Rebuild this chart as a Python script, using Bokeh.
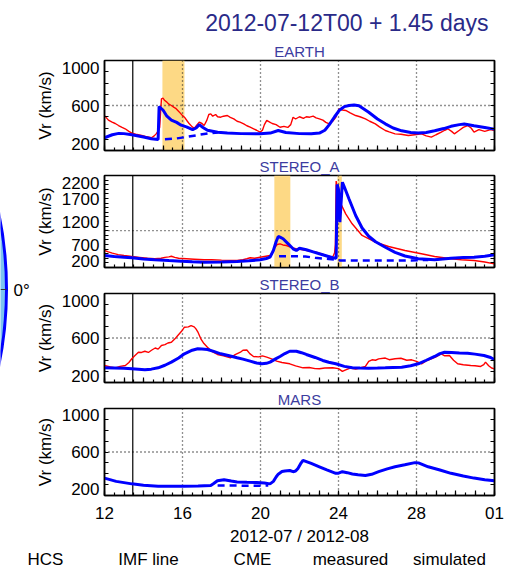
from bokeh.plotting import figure
from bokeh.models import (Range1d, LinearAxis, FixedTicker, Span, BoxAnnotation, Title,
                          CustomJSTickFormatter)
from bokeh.layouts import row, column
from bokeh.embed import file_html
from bokeh.resources import INLINE
from bokeh.core.properties import value

FONT = "Liberation Sans"

# ---------------- data ----------------
main_title = "2012-07-12T00 + 1.45 days"
panel_names = ["EARTH", "STEREO_A", "STEREO_B", "MARS"]
x_tick_labels = {"12": "12", "16": "16", "20": "20", "24": "24", "28": "28", "32": "01"}
x_axis_label = "2012-07 / 2012-08"
y_axis_label = "Vr (km/s)"
legend_labels = ["HCS", "IMF line", "CME", "measured", "simulated"]
current_time = 13.45
grid_days = [16, 20, 24, 28]

earth_meas_day = [12.0, 12.2, 12.39, 12.55, 12.72, 12.9, 13.06, 13.25, 13.4, 13.6, 13.91, 14.1, 14.41, 14.55,
                  14.66, 14.78, 14.83, 14.92, 15.0, 15.09, 15.2, 15.3, 15.43, 15.55, 15.65, 15.76, 15.9, 16.0,
                  16.1, 16.25, 16.35, 16.5, 16.61, 16.75, 16.86, 17.0, 17.11, 17.25, 17.35, 17.45, 17.55, 17.7,
                  17.8, 17.96, 18.1, 18.3, 18.45, 18.63, 18.8, 18.95, 19.14, 19.3, 19.47, 19.65, 19.8, 19.98,
                  20.1, 20.2, 20.32, 20.45, 20.6, 20.8, 21.0, 21.2, 21.4, 21.55, 21.67, 21.8, 22.0, 22.2, 22.35,
                  22.52, 22.7, 22.85, 23.02, 23.2, 23.35, 23.53, 23.7, 23.86, 24.03, 24.2, 24.37, 24.6, 24.88,
                  25.1, 25.38, 25.6, 25.89, 26.1, 26.4, 26.6, 26.9, 27.2, 27.58, 27.9, 28.26, 28.5, 28.76, 29.0,
                  29.27, 29.45, 29.6, 29.8, 29.94, 30.2, 30.4, 30.62, 30.8, 30.95, 31.2, 31.5, 31.8, 32.0]
earth_meas_v = [510, 470, 452, 440, 422, 405, 393, 370, 354, 345, 333, 325, 313, 330,
                350, 380, 407, 659, 665, 644, 630, 612, 600, 585, 575, 556, 530, 510,
                496, 460, 437, 410, 398, 430, 452, 440, 422, 470, 520, 526, 505, 520,
                500, 496, 505, 511, 495, 481, 460, 452, 437, 420, 407, 393, 380, 363,
                380, 430, 467, 455, 440, 430, 407, 415, 405, 430, 496, 480, 500, 485, 500,
                496, 505, 490, 481, 470, 450, 437, 460, 496, 570, 560, 556, 535, 511,
                500, 481, 460, 437, 410, 378, 365, 348, 345, 333, 340, 348, 330, 319, 340,
                363, 380, 393, 370, 348, 380, 405, 422, 400, 363, 385, 370, 385, 378]
earth_sim_day = [12.0, 12.4, 12.73, 13.0, 13.4, 14.0, 14.4, 14.75, 14.8, 15.0, 15.2, 15.43, 15.7, 15.93,
                 16.2, 16.52, 16.7, 16.86, 17.05, 17.28, 17.8, 18.3, 19.0, 19.98, 20.5, 20.91, 21.3, 22.0,
                 22.6, 23.02, 23.3, 23.53, 23.8, 24.03, 24.3, 24.54, 24.8, 25.05, 25.55, 26.0, 26.4, 26.8,
                 27.24, 27.7, 28.09, 28.5, 28.93, 29.4, 29.77, 30.2, 30.45, 30.95, 31.5, 32.0]
earth_sim_v = [313, 340, 352, 350, 340, 320, 305, 298, 591, 560, 505, 470, 450, 425,
               410, 385, 400, 430, 405, 380, 362, 355, 350, 348, 355, 378, 360, 350,
               348, 355, 380, 430, 500, 555, 590, 600, 605, 598, 540, 480, 437, 400,
               375, 360, 355, 360, 375, 395, 415, 430, 435, 420, 405, 390]
earth_amb_day = [15.1, 15.6, 16.2, 16.8, 17.3, 17.8]
earth_amb_v = [300, 305, 320, 338, 352, 360]
earth_cme = [(14.97, 16.1)]

sta_meas_day = [12.0, 12.2, 12.4, 12.7, 13.0, 13.4, 13.8, 14.2, 14.58, 14.9, 15.1, 15.3, 15.43, 15.6, 15.8,
                16.2, 16.6, 17.11, 17.5, 18.0, 18.4, 18.8, 19.1, 19.3, 19.47, 19.7, 19.98, 20.2, 20.49,
                20.6, 20.74, 20.85, 21.0, 21.15, 21.33, 21.5, 21.67, 21.9, 22.18, 22.5, 22.86, 23.1, 23.36,
                23.55, 23.7, 23.8, 23.84, 23.88, 23.95, 24.05, 24.12, 24.37, 24.7, 25.21, 25.89, 26.57,
                27.41, 28.25, 28.93, 29.77, 30.3, 30.95, 31.5, 32.0]
sta_meas_v = [570, 540, 511, 480, 460, 439, 420, 400, 389, 400, 420, 430, 445, 420, 400,
              390, 380, 367, 370, 360, 355, 352, 370, 390, 411, 400, 424, 440, 461,
              520, 641, 700, 715, 690, 678, 650, 628, 600, 585, 560, 533, 500, 461,
              440, 424, 520, 700, 2080, 1900, 1700, 1584, 1367, 1150, 896, 750, 657,
              570, 498, 439, 389, 370, 352, 320, 280]
sta_sim_day = [12.0, 12.5, 13.0, 13.4, 14.0, 14.58, 15.3, 15.93, 16.5, 17.11, 18.0, 18.8, 19.4, 19.98,
               20.3, 20.49, 20.66, 20.8, 20.91, 21.0, 21.16, 21.42, 21.67, 21.84, 22.0, 22.35, 22.7,
               23.02, 23.4, 23.7, 23.88, 23.93, 24.0, 24.07, 24.2, 24.3, 24.54, 24.88, 25.21, 25.55,
               25.9, 26.4, 26.9, 27.41, 28.09, 28.93, 29.77, 30.4, 30.95, 31.5, 32.0]
sta_sim_v = [461, 440, 425, 411, 385, 367, 350, 337, 325, 315, 320, 330, 345, 367,
             395, 424, 570, 760, 874, 860, 824, 715, 606, 570, 620, 585, 540,
             498, 450, 411, 400, 2004, 1900, 1185, 2054, 1950, 1690, 1330, 1060, 880,
             760, 640, 530, 450, 389, 367, 402, 415, 424, 445, 476]
sta_amb_day = [20.95, 21.5, 22.3, 22.8, 23.5, 23.9, 24.1, 25.0, 26.0, 27.0, 28.0, 28.6]
sta_amb_v = [446, 446, 440, 410, 385, 370, 352, 350, 350, 350, 355, 365]
sta_cme = [(20.71, 21.53), (23.95, 24.17)]

stb_meas_day = [12.0, 12.3, 12.56, 12.8, 13.07, 13.25, 13.4, 13.55, 13.74, 13.9, 14.07, 14.25, 14.41, 14.6,
                14.75, 14.92, 15.1, 15.25, 15.43, 15.6, 15.76, 15.95, 16.1, 16.3, 16.44, 16.6, 16.69, 16.8,
                16.94, 17.1, 17.28, 17.5, 17.79, 18.1, 18.46, 18.7, 18.97, 19.1, 19.3, 19.45, 19.64, 19.9,
                20.1, 20.32, 20.6, 20.83, 21.1, 21.5, 21.8, 22.18, 22.5, 22.8, 23.02, 23.3, 23.7, 24.0,
                24.2, 24.37, 24.6, 24.88, 25.1, 25.38, 25.55, 25.72, 25.9, 26.06, 26.4, 26.6, 26.9, 27.2,
                27.5, 27.75, 28.0, 28.26, 28.5, 28.76, 29.0, 29.27, 29.45, 29.69, 29.9, 30.11, 30.4, 30.78,
                31.0, 31.29, 31.45, 31.54, 31.7, 31.85, 32.0]
stb_meas_v = [353, 340, 332, 345, 353, 380, 413, 440, 472, 470, 481, 470, 490, 510,
              500, 533, 540, 555, 562, 590, 622, 660, 697, 700, 712, 700, 682, 650,
              593, 550, 517, 480, 452, 440, 422, 450, 472, 490, 492, 460, 434, 430,
              440, 428, 410, 392, 380, 368, 350, 332, 335, 325, 323, 330, 332, 325,
              300, 314, 330, 320, 330, 345, 390, 404, 400, 412, 420, 405, 413, 418,
              400, 404, 390, 368, 395, 413, 430, 458, 440, 443, 400, 368, 360, 353,
              350, 344, 360, 383, 350, 330, 323]
stb_sim_day = [12.0, 12.5, 13.0, 13.4, 14.07, 14.4, 14.75, 15.1, 15.43, 15.8, 16.1, 16.5, 16.78, 17.0,
               17.28, 17.6, 17.96, 18.4, 18.8, 19.1, 19.47, 19.8, 20.07, 20.3, 20.49, 20.75, 21.0, 21.25,
               21.5, 21.84, 22.1, 22.35, 22.8, 23.19, 23.5, 23.86, 24.3, 24.71, 25.1, 25.55, 26.0, 26.4,
               26.8, 27.24, 27.7, 28.09, 28.5, 28.93, 29.2, 29.44, 29.8, 30.2, 30.62, 31.0, 31.46, 31.8, 32.0]
stb_sim_v = [332, 330, 328, 323, 314, 320, 332, 355, 383, 420, 458, 490, 503, 502,
             497, 480, 458, 440, 422, 410, 392, 375, 368, 372, 383, 410, 434, 460,
             481, 481, 468, 452, 425, 398, 382, 368, 345, 332, 330, 329, 330, 332,
             335, 338, 350, 368, 400, 434, 460, 472, 470, 466, 463, 455, 443, 425, 404]

mars_sim_day = [12.0, 12.6, 13.4, 14.0, 14.75, 15.5, 16.1, 16.8, 17.45, 17.6, 17.79, 18.13, 18.5, 18.8,
                19.3, 19.81, 20.2, 20.49, 20.66, 20.8, 20.91, 21.1, 21.25, 21.5, 21.67, 21.8, 21.92, 22.05,
                22.18, 22.6, 23.02, 23.4, 23.86, 24.0, 24.2, 24.45, 24.71, 25.0, 25.38, 25.7, 26.06, 26.5,
                26.9, 27.4, 27.92, 28.1, 28.6, 29.2, 29.77, 30.4, 30.95, 31.5, 32.0]
mars_sim_v = [360, 330, 307, 295, 286, 285, 286, 288, 292, 310, 336, 345, 333, 324,
              322, 320, 315, 307, 330, 370, 396, 420, 425, 430, 419, 425, 449, 490,
              523, 495, 464, 435, 404, 405, 419, 410, 398, 390, 384, 395, 419, 445,
              464, 482, 502, 500, 464, 435, 404, 380, 360, 345, 336]
mars_amb_day = [17.8, 18.5, 19.2, 19.9, 20.4]
mars_amb_v = [292, 292, 290, 290, 292]

y_range_low = [200, 200, 200, 200]
y_range_high = [1000, 2200, 1000, 1000]
y_major_ticks = [[200, 600, 1000], [200, 700, 1200, 1700, 2200], [200, 600, 1000], [200, 600, 1000]]
y_tick_labels = [["200", "600", "1000"], ["200", "700", "1200", "1700", "2200"],
                 ["200", "600", "1000"], ["200", "600", "1000"]]
y_ref_level = [600, 1000, 600, 600]

# ---------------- styles / layout ----------------
RED = "#FF0000"
BLUE = "#0000FF"
BAND = "#FDD985"
TITLE_COLOR = "#2A2A88"
PANEL_TITLE_COLOR = "#3C3CA0"
FRAME_H = [90, 92, 89, 90]      # frame heights in px
END_LABEL_INSET = 7             # px the end labels sit inside the frame (IDL style)

x_major = list(range(12, 33))
x_minor = [12 + 0.5 * i for i in range(41)]

empty_fmt = CustomJSTickFormatter(code="return '';")


def style_axis(ax, ticker, fmt, label_size, major_in=5, minor_in=3):
    ax.ticker = ticker
    ax.formatter = fmt
    ax.major_tick_in = major_in
    ax.major_tick_out = 0
    ax.minor_tick_in = minor_in
    ax.minor_tick_out = 0
    ax.axis_line_color = "black"
    ax.axis_line_width = 1.5
    ax.major_tick_line_color = "black"
    ax.major_tick_line_width = 1.2
    ax.minor_tick_line_color = "black"
    ax.minor_tick_line_width = 1.2
    ax.major_label_text_font = FONT
    ax.major_label_text_font_size = label_size
    ax.major_label_text_color = "black"
    ax.axis_label_text_font = FONT
    ax.axis_label_text_font_size = "17px"
    ax.axis_label_text_font_style = "normal"
    ax.axis_label_text_color = "black"


def make_panel(i, height, b_top, b_bottom, meas, sim, amb, bands, last=False):
    lo, hi = y_range_low[i], y_range_high[i]
    p = figure(width=480, height=height, title=None,
               x_range=Range1d(12, 32), y_range=Range1d(lo, hi),
               output_backend="svg", toolbar_location=None,
               min_border_left=67, min_border_right=18,
               min_border_top=b_top, min_border_bottom=b_bottom)
    p.grid.visible = False
    p.outline_line_color = "black"
    p.outline_line_width = 1.5

    ymin = list(range(lo, hi + 1, 100))
    # label anchors: end labels pulled slightly inside the frame; tick marks come from minor ticks
    inset = END_LABEL_INSET * (hi - lo) / FRAME_H[i]
    pos = list(y_major_ticks[i])
    pos[0] = pos[0] + inset
    pos[-1] = pos[-1] - inset
    yt = FixedTicker(ticks=pos, minor_ticks=ymin)
    yfmt = CustomJSTickFormatter(args=dict(pos=pos, txt=y_tick_labels[i]), code="""
        for (let k = 0; k < pos.length; k++) {
            if (Math.abs(pos[k] - tick) < 1e-6) return txt[k];
        }
        return '';
    """)
    ya = p.yaxis[0]
    style_axis(ya, yt, yfmt, "17px", major_in=0, minor_in=4)
    ya.axis_label = y_axis_label
    ya.major_label_standoff = 5
    ya.axis_label_standoff = 4

    xa = p.xaxis[0]
    xt = FixedTicker(ticks=x_major, minor_ticks=x_minor)
    if last:
        fmt = CustomJSTickFormatter(args=dict(labels=x_tick_labels),
                                    code="const k = String(Math.round(tick)); return (k in labels) ? labels[k] : '';")
        style_axis(xa, xt, fmt, "17px")
        xa.axis_label = x_axis_label
        xa.major_label_standoff = 11
        xa.axis_label_standoff = 5
    else:
        style_axis(xa, xt, empty_fmt, "0px")
        xa.major_label_standoff = 0

    ra = LinearAxis()
    style_axis(ra, FixedTicker(ticks=[], minor_ticks=ymin), empty_fmt, "0px", major_in=0, minor_in=4)
    ra.major_label_standoff = 0
    p.add_layout(ra, "right")

    # CME intervals
    for a, b in bands:
        p.add_layout(BoxAnnotation(left=a, right=b, fill_color=BAND, fill_alpha=1.0,
                                   line_color=None, level="underlay"))
    for d in grid_days:
        p.add_layout(Span(location=d, dimension="height", line_color="#222222",
                          line_width=1.3, line_dash="1 3", level="underlay"))
    p.add_layout(Span(location=y_ref_level[i], dimension="width", line_color="#222222",
                      line_width=1.3, line_dash="1 3", level="underlay"))
    p.add_layout(Span(location=current_time, dimension="height", line_color="black",
                      line_width=1.2, level="underlay"))

    if meas is not None:
        p.line(meas[0], meas[1], line_color=RED, line_width=1.4)
    if amb is not None:
        p.line(amb[0], amb[1], line_color=BLUE, line_width=2.5, line_dash="7 5")
    p.line(sim[0], sim[1], line_color=BLUE, line_width=3)

    p.add_layout(Title(text=panel_names[i], align="center", text_font=FONT, text_font_size="15px",
                       text_font_style="normal", text_color=PANEL_TITLE_COLOR, standoff=2), "above")
    return p


f1 = make_panel(0, 152, 60, 2, (earth_meas_day, earth_meas_v), (earth_sim_day, earth_sim_v),
                (earth_amb_day, earth_amb_v), earth_cme)
f1.add_layout(Title(text=main_title, align="right", text_font=FONT, text_font_size="23px",
                    text_font_style="normal", text_color=TITLE_COLOR, standoff=8, offset=6), "above")
f2 = make_panel(1, 117, 23, 2, (sta_meas_day, sta_meas_v), (sta_sim_day, sta_sim_v),
                (sta_amb_day, sta_amb_v), sta_cme)
f3 = make_panel(2, 115, 24, 2, (stb_meas_day, stb_meas_v), (stb_sim_day, stb_sim_v), None, [])
f4 = make_panel(3, 164, 24, 50, None, (mars_sim_day, mars_sim_v), (mars_amb_day, mars_amb_v), [], last=True)

# left decoration: edge of the orbit disc with the 0 degree mark
lf = figure(width=32, height=548, x_range=Range1d(0, 32), y_range=Range1d(548, 0),
            x_axis_type=None, y_axis_type=None, output_backend="svg", toolbar_location=None,
            min_border=0, title=None)
lf.outline_line_color = None
lf.grid.visible = False
lf.circle(x=[-371], y=[289], radius=377, fill_color="#7CC4F0", line_color=BLUE, line_width=3)
lf.segment(x0=[0], y0=[289], x1=[6], y1=[289], line_color="#333333", line_width=1)
lf.text(x=[13], y=[290], text=["0°"], text_font=value(FONT), text_font_size="17px",
        text_baseline="middle", text_align="left", text_color="black")

# bottom legend labels
lg = figure(width=512, height=21, x_range=Range1d(0, 512), y_range=Range1d(0, 21),
            x_axis_type=None, y_axis_type=None, output_backend="svg", toolbar_location=None,
            min_border=0, title=None)
lg.outline_line_color = None
lg.grid.visible = False
lg.text(x=[45, 148, 252, 350, 449], y=[10.5] * 5, text=legend_labels, text_font=value(FONT),
        text_font_size="17px", text_align="center", text_baseline="middle", text_color="black")

layout = column(row(lf, column(f1, f2, f3, f4)), lg)

open("out.html", "w").write(file_html(layout, INLINE))
